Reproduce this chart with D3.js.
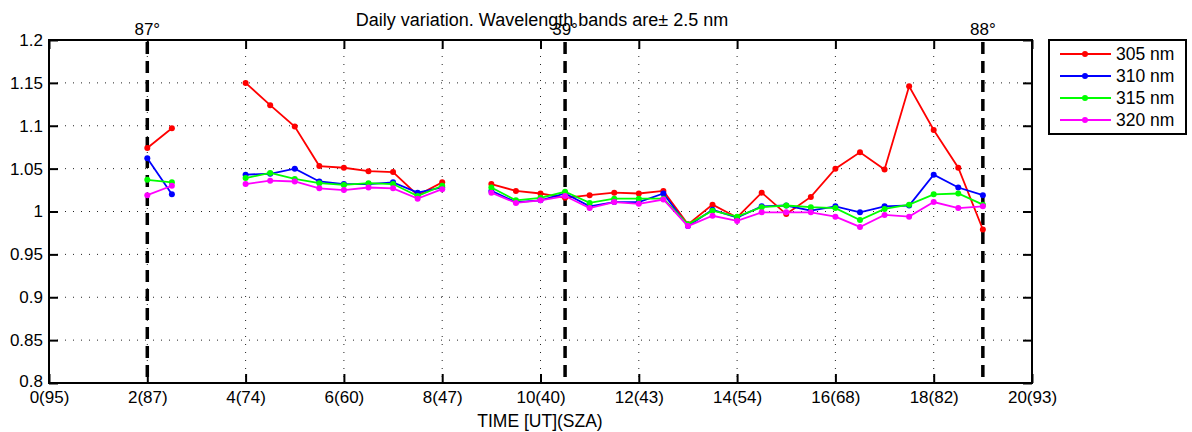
<!DOCTYPE html>
<html>
	<head>
		<meta charset="utf-8" />
		<title>Daily variation</title>
		<script src="https://d3js.org/d3.v7.min.js"></script>
		<style>
			body {
				margin: 0;
				background: white;
			}
			svg {
				display: block;
				font-family: "Liberation Sans", Arial, sans-serif;
			}
		</style>
	</head>
	<body>
		<div id="holder"></div>
		<script>
			//Data (null = no measurement, breaks the line)
			const times = [2, 2.5, 3, 4, 4.5, 5, 5.5, 6, 6.5, 7, 7.5, 8, 8.5,
				9, 9.5, 10, 10.5, 11, 11.5, 12, 12.5, 13, 13.5, 14, 14.5, 15, 15.5, 16, 16.5, 17, 17.5, 18, 18.5, 19];

			const r305 = [1.074, 1.097, null, 1.150, 1.124, 1.099, 1.053, 1.051, 1.047, 1.046, 1.019, 1.034, null,
				1.032, 1.024, 1.021, 1.016, 1.019, 1.022, 1.021, 1.024, 0.985, 1.008, 0.993, 1.022, 0.997, 1.017, 1.050, 1.069, 1.049, 1.146, 1.095, 1.051, 0.979];
			const r310 = [1.062, 1.020, null, 1.043, 1.044, 1.050, 1.035, 1.032, 1.032, 1.034, 1.022, 1.028, null,
				1.024, 1.011, 1.013, 1.021, 1.006, 1.011, 1.011, 1.021, 0.983, 1.002, 0.993, 1.006, 1.007, 1.001, 1.006, 0.999, 1.006, 1.007, 1.043, 1.028, 1.019];
			const r315 = [1.037, 1.034, null, 1.039, 1.045, 1.038, 1.033, 1.031, 1.033, 1.032, 1.018, 1.030, null,
				1.028, 1.013, 1.016, 1.023, 1.010, 1.015, 1.015, 1.015, 0.985, 1.001, 0.994, 1.005, 1.007, 1.005, 1.004, 0.990, 1.003, 1.008, 1.020, 1.021, 1.008];
			const r320 = [1.019, 1.030, null, 1.032, 1.036, 1.035, 1.027, 1.025, 1.028, 1.027, 1.015, 1.026, null,
				1.022, 1.010, 1.013, 1.018, 1.004, 1.011, 1.009, 1.014, 0.983, 0.995, 0.989, 0.999, 0.999, 0.999, 0.994, 0.982, 0.996, 0.994, 1.011, 1.004, 1.006];

			const seriesNames = ["305 nm", "310 nm", "315 nm", "320 nm"];
			const seriesColors = ["#ff0000", "#0000ff", "#00ff00", "#ff00ff"];
			const seriesValues = [r305, r310, r315, r320];

			const xTicks = [0, 2, 4, 6, 8, 10, 12, 14, 16, 18, 20];
			const xTickLabels = ["0(95)", "2(87)", "4(74)", "6(60)", "8(47)", "10(40)", "12(43)", "14(54)", "16(68)", "18(82)", "20(93)"];
			const yTicks = [0.8, 0.85, 0.9, 0.95, 1, 1.05, 1.1, 1.15, 1.2];

			//SZA markers
			const markTimes = [2, 10.5, 19];
			const markLabels = ["87°", "39°", "88°"];

			//Variables
			const w = 1192;
			const h = 432;
			const pLeft = 49, pRight = 1032, pTop = 40, pBottom = 383;

			const xScale = d3.scaleLinear().domain([0, 20]).range([pLeft, pRight]);
			const yScale = d3.scaleLinear().domain([0.8, 1.2]).range([pBottom, pTop]);

			const svg = d3.select("#holder")
				.append("svg")
				.attr("width", w)
				.attr("height", h);

			//Grid
			const grid = svg.append("g")
				.attr("stroke", "#222")
				.attr("stroke-width", 1)
				.attr("stroke-dasharray", "1,7");
			grid.selectAll(".hgrid")
				.data(yTicks.slice(1, -1))
				.enter()
				.append("line")
				.attr("x1", pLeft).attr("x2", pRight)
				.attr("y1", d => yScale(d)).attr("y2", d => yScale(d));
			grid.selectAll(".vgrid")
				.data(xTicks.slice(1, -1))
				.enter()
				.append("line")
				.attr("y1", pTop).attr("y2", pBottom)
				.attr("x1", d => xScale(d)).attr("x2", d => xScale(d));

			//Axes (MATLAB style box with inward ticks)
			const xAxisB = d3.axisBottom(xScale).tickValues(xTicks).tickSize(-9).tickFormat((d, i) => xTickLabels[i]);
			const gx = svg.append("g")
				.attr("id", "x-axis")
				.attr("transform", "translate(0," + pBottom + ")")
				.call(xAxisB);
			gx.selectAll("text").style("font-size", "17px").attr("fill", "#000").attr("y", 8);

			const xAxisT = d3.axisTop(xScale).tickValues(xTicks).tickSize(-9).tickFormat("");
			svg.append("g")
				.attr("transform", "translate(0," + pTop + ")")
				.call(xAxisT);

			const yAxisL = d3.axisLeft(yScale).tickValues(yTicks).tickSize(-9).tickFormat(d3.format("~g"));
			const gy = svg.append("g")
				.attr("id", "y-axis")
				.attr("transform", "translate(" + pLeft + ",0)")
				.call(yAxisL);
			gy.selectAll("text").style("font-size", "17px").attr("fill", "#000").attr("x", -6);
			gy.selectAll("text").filter(d => d === 0.8).attr("dy", "0.2em");

			const yAxisR = d3.axisRight(yScale).tickValues(yTicks).tickSize(-9).tickFormat("");
			svg.append("g")
				.attr("transform", "translate(" + pRight + ",0)")
				.call(yAxisR);

			svg.selectAll(".domain").remove();
			svg.selectAll(".tick line").attr("stroke", "#000").attr("stroke-width", 2);

			svg.append("rect")
				.attr("x", pLeft).attr("y", pTop)
				.attr("width", pRight - pLeft).attr("height", pBottom - pTop)
				.attr("fill", "none")
				.attr("stroke", "#000")
				.attr("stroke-width", 2);

			//SZA dashed lines
			svg.selectAll(".sza")
				.data(markTimes)
				.enter()
				.append("line")
				.attr("x1", d => xScale(d)).attr("x2", d => xScale(d))
				.attr("y1", pTop + 2).attr("y2", pBottom)
				.attr("stroke", "#000")
				.attr("stroke-width", 3.5)
				.attr("stroke-dasharray", "12,7");
			svg.selectAll(".szalabel")
				.data(markTimes)
				.enter()
				.append("text")
				.attr("x", d => xScale(d))
				.attr("y", 35)
				.attr("text-anchor", "middle")
				.style("font-size", "17px")
				.text((d, i) => markLabels[i]);

			//Lines and points
			const line = d3.line()
				.defined(d => d[1] !== null)
				.x(d => xScale(d[0]))
				.y(d => yScale(d[1]));

			seriesValues.forEach((vals, s) => {
				const pts = times.map((t, i) => [t, vals[i]]);
				svg.append("path")
					.datum(pts)
					.attr("fill", "none")
					.attr("stroke", seriesColors[s])
					.attr("stroke-width", 1.8)
					.attr("d", line);
				svg.append("g")
					.selectAll("circle")
					.data(pts.filter(p => p[1] !== null))
					.enter()
					.append("circle")
					.attr("cx", d => xScale(d[0]))
					.attr("cy", d => yScale(d[1]))
					.attr("r", 3)
					.attr("fill", seriesColors[s]);
			});

			//Title and label
			svg.append("text")
				.attr("x", 542)
				.attr("y", 26)
				.attr("text-anchor", "middle")
				.style("font-size", "18px")
				.text("Daily variation. Wavelength bands are\u00b1 2.5 nm");

			svg.append("text")
				.attr("x", 540)
				.attr("y", 427)
				.attr("text-anchor", "middle")
				.style("font-size", "17.5px")
				.text("TIME [UT](SZA)");

			//Legend
			const legend = svg.append("g").attr("id", "legend");
			legend.append("rect")
				.attr("x", 1049).attr("y", 40)
				.attr("width", 137).attr("height", 94)
				.attr("fill", "white")
				.attr("stroke", "#000")
				.attr("stroke-width", 2);
			seriesNames.forEach((name, i) => {
				const ly = 54 + i * 22;
				legend.append("line")
					.attr("x1", 1060).attr("x2", 1111)
					.attr("y1", ly).attr("y2", ly)
					.attr("stroke", seriesColors[i])
					.attr("stroke-width", 1.8);
				legend.append("circle")
					.attr("cx", 1085).attr("cy", ly).attr("r", 3)
					.attr("fill", seriesColors[i]);
				legend.append("text")
					.attr("x", 1116).attr("y", ly + 6)
					.style("font-size", "17.5px")
					.text(name);
			});
		</script>
	</body>
</html>
